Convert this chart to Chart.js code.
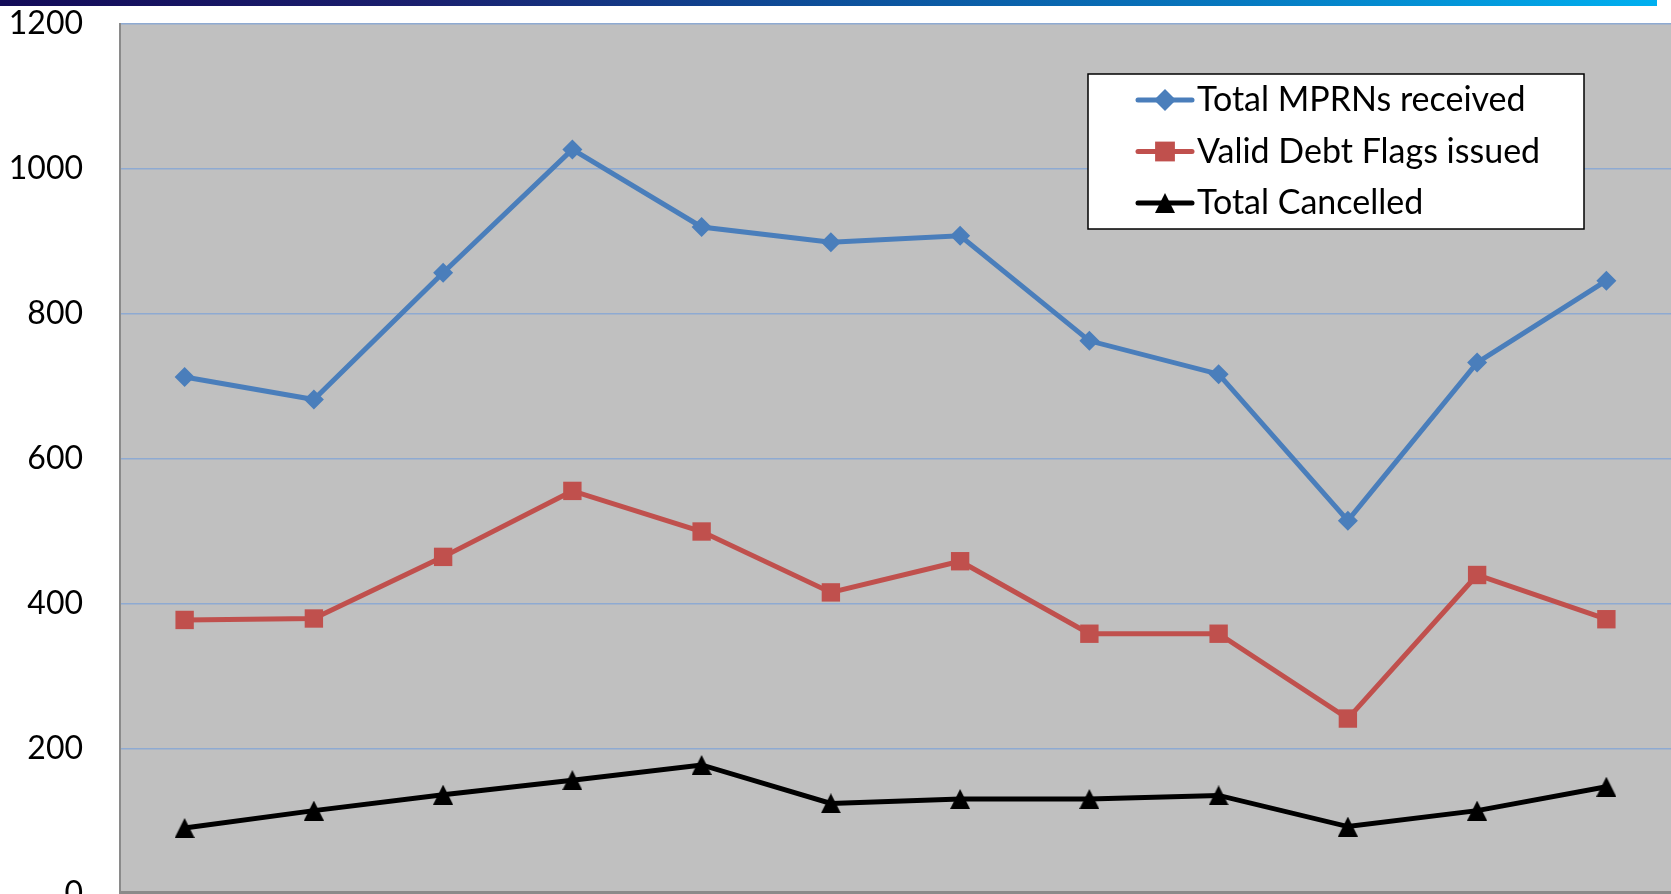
<!DOCTYPE html>
<html>
<head>
<meta charset="utf-8">
<script src="https://cdn.jsdelivr.net/npm/chart.js@4.4.0/dist/chart.umd.min.js"></script>
<style>
  html, body { margin: 0; padding: 0; background: #fff; overflow: hidden; }
  #wrap { position: absolute; left: 0; top: 0; width: 1671px; height: 894px; }
  #topbar {
    position: absolute; left: 0; top: 0; width: 1657px; height: 6px; z-index: 2;
    background: linear-gradient(to right, #130b58 0%, #1a1f6e 25%, #0d4f9a 50%, #0679c0 75%, #00b0f0 100%);
  }
</style>
</head>
<body>
<div id="wrap"><canvas id="chart" width="1671" height="894"></canvas></div>
<div id="topbar"></div>
<script>
// ---- data ----
const periods = ['Jan', 'Feb', 'Mar', 'Apr', 'May', 'Jun', 'Jul', 'Aug', 'Sep', 'Oct', 'Nov', 'Dec'];
const totalReceived = [713, 682, 857, 1027, 920, 899, 908, 763, 717, 515, 733, 846];
const validFlags = [378, 380, 465, 556, 500, 416, 459, 359, 359, 242, 440, 379];
const totalCancelled = [91, 115, 137, 157, 178, 125, 131, 131, 136, 93, 115, 148];
const yTicks = [0, 200, 400, 600, 800, 1000, 1200];

const FONT = 'Lato, "Open Sans", sans-serif';

// excel-style triangle, centred on the point (built-in one sits high)
function makeTriangle(size, color) {
    const c = document.createElement('canvas');
    c.width = size; c.height = size;
    const g = c.getContext('2d');
    g.fillStyle = color;
    g.beginPath();
    g.moveTo(size / 2, 0);
    g.lineTo(size, size);
    g.lineTo(0, size);
    g.closePath();
    g.fill();
    return c;
}

// grey plot area + frame
const plotBg = {
    id: 'plotBg',
    beforeDraw(chart) {
        const a = chart.chartArea, ctx = chart.ctx;
        ctx.save();
        ctx.fillStyle = '#c0c0c0';
        ctx.fillRect(a.left, a.top, a.right - a.left, a.bottom - a.top);
        ctx.restore();
    },
    beforeDatasetsDraw(chart) {
        const a = chart.chartArea, ctx = chart.ctx;
        ctx.save();
        ctx.strokeStyle = '#8a8a8a';
        ctx.lineWidth = 2;
        ctx.beginPath();
        ctx.moveTo(a.left, a.bottom - 2);
        ctx.lineTo(a.right, a.bottom - 2);
        ctx.stroke();
        ctx.restore();
    }
};

// boxed legend inside the plot, top right
const boxLegend = {
    id: 'boxLegend',
    afterDraw(chart) {
        const ctx = chart.ctx;
        const bx = 1088, by = 74, bw = 496, bh = 155;
        ctx.save();
        ctx.fillStyle = '#fff';
        ctx.fillRect(bx, by, bw, bh);
        ctx.strokeStyle = '#000';
        ctx.lineWidth = 1.5;
        ctx.strokeRect(bx, by, bw, bh);
        chart.data.datasets.forEach((ds, i) => {
            const y = 100 + i * 51.5;
            ctx.strokeStyle = ds.borderColor;
            ctx.lineWidth = ds.borderWidth;
            ctx.lineCap = 'round';
            ctx.beginPath();
            ctx.moveTo(1138, y);
            ctx.lineTo(1192, y);
            ctx.stroke();
            ctx.fillStyle = ds.pointBackgroundColor;
            Chart.helpers.drawPoint(ctx, { pointStyle: ds.pointStyle, radius: ds.pointRadius + 1, rotation: 0, borderWidth: 0 }, 1165, y);
            ctx.fillStyle = '#000';
            ctx.font = '34px ' + FONT;
            ctx.textBaseline = 'alphabetic';
            ctx.textAlign = 'left';
            ctx.fillText(ds.label, 1197, y + 11);
        });
        ctx.restore();
    }
};

new Chart(document.getElementById('chart'), {
    type: 'line',
    data: {
        labels: periods,
        datasets: [
            {
                label: 'Total MPRNs received', data: totalReceived,
                borderColor: '#4a7ebb', borderWidth: 5,
                pointStyle: 'rectRot', pointRadius: 10,
                pointBackgroundColor: '#4a7ebb', pointBorderWidth: 0
            },
            {
                label: 'Valid Debt Flags issued', data: validFlags,
                borderColor: '#c0504d', borderWidth: 5,
                pointStyle: 'rect', pointRadius: 13,
                pointBackgroundColor: '#c0504d', pointBorderWidth: 0
            },
            {
                label: 'Total Cancelled', data: totalCancelled,
                borderColor: '#000000', borderWidth: 5,
                pointStyle: makeTriangle(20, '#000000'), pointRadius: 11,
                pointBackgroundColor: '#000000', pointBorderWidth: 0
            }
        ]
    },
    options: {
        responsive: false,
        devicePixelRatio: 1,
        animation: false,
        layout: { autoPadding: false, padding: { top: 24, bottom: 0, left: 0, right: 0 } },
        plugins: { legend: { display: false }, tooltip: { enabled: false } },
        scales: {
            x: { type: 'category', offset: true, display: false },
            y: {
                min: 0, max: 1200,
                afterBuildTicks(s) { s.ticks = yTicks.map(v => ({ value: v })); },
                ticks: {
                    padding: 37, color: '#000', font: { family: FONT, size: 32 },
                    callback: v => String(v)
                },
                grid: {
                    drawTicks: false,
                    color: c => c.tick && c.tick.value === 0 ? '#8a8a8a' : '#8eaad2',
                    lineWidth: c => c.tick && c.tick.value === 0 ? 2 : 1.5
                },
                border: { display: true, color: '#8a8a8a', width: 2 },
                afterFit(s) { s.width = 120; s.paddingTop = 0; s.paddingBottom = 0; }
            }
        }
    },
    plugins: [plotBg, boxLegend]
});
</script>
</body>
</html>
